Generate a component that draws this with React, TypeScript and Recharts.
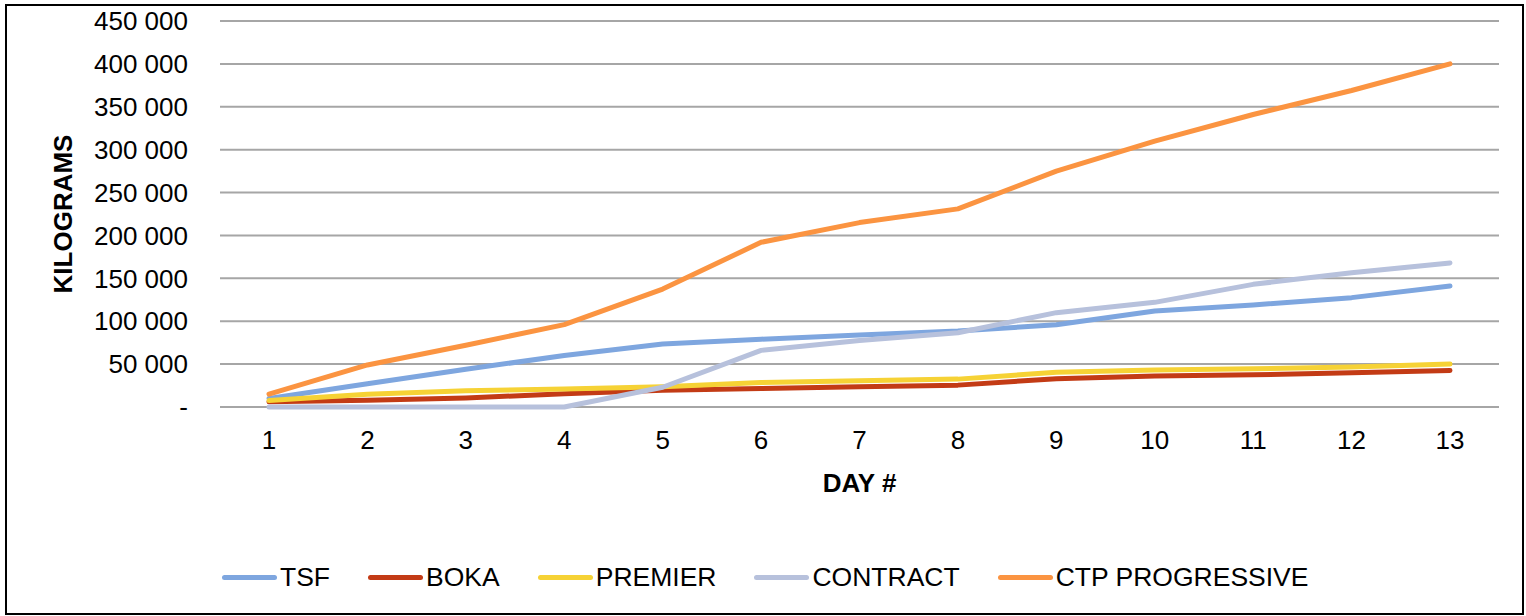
import React from 'react'
import { LineChart, Line, XAxis, YAxis, CartesianGrid } from 'recharts'

const days = ['1', '2', '3', '4', '5', '6', '7', '8', '9', '10', '11', '12', '13']
const tsf = [10000, 27000, 44000, 60000, 73500, 79000, 84000, 88500, 96000, 112000, 119000, 127500, 141000]
const boka = [6000, 8000, 10500, 15500, 19500, 21500, 23500, 25500, 33000, 36000, 37500, 40000, 42500]
const premier = [7500, 15000, 19000, 21000, 23500, 28500, 30500, 32500, 40500, 43000, 44500, 46500, 50000]
const contract = [0, 0, 0, 0, 23000, 66000, 77500, 86500, 110000, 122000, 143000, 156500, 168000]
const ctp = [15000, 49000, 72000, 96000, 137500, 192000, 215000, 231000, 275000, 310000, 341000, 369000, 400000]
const yTicks = [0, 50000, 100000, 150000, 200000, 250000, 300000, 350000, 400000, 450000]

const series = [
  { key: 'TSF', values: tsf, color: '#7ea6df' },
  { key: 'BOKA', values: boka, color: '#c33b15' },
  { key: 'PREMIER', values: premier, color: '#f6d235' },
  { key: 'CONTRACT', values: contract, color: '#b7c1dc' },
  { key: 'CTP PROGRESSIVE', values: ctp, color: '#fb9441' },
]

const data = days.map((d, i) => {
  const row: Record<string, string | number> = { day: d }
  series.forEach((s) => { row[s.key] = s.values[i] })
  return row
})

const font = '"Liberation Sans", Arial, sans-serif'

const fmt = (v: number) => (v === 0 ? '-' : `${Math.floor(v / 1000)} ${String(v % 1000).padStart(3, '0')}`)

function ChartLegend() {
  return (
    <div style={{ position: 'absolute', left: 222, top: 561, height: 32, display: 'flex', alignItems: 'center',
      fontFamily: font, fontSize: 26.5, color: '#000', whiteSpace: 'nowrap' }}>
      {series.map((s) => (
        <div key={s.key} style={{ display: 'flex', alignItems: 'center', marginRight: 38 }}>
          <div style={{ width: 55, height: 5, borderRadius: 3, background: s.color, marginRight: 3 }} />
          <span>{s.key}</span>
        </div>
      ))}
    </div>
  )
}

export default function App() {
  return (
    <div style={{ position: 'absolute', left: 0, top: 0, width: 1526, height: 616, background: '#fff' }}>
      <div style={{ position: 'absolute', left: 5, top: 4, width: 1515, height: 607, border: '2px solid #000' }} />
      <LineChart width={1526} height={616} data={data} margin={{ top: 21, right: 27, left: 0, bottom: 0 }}>
        <CartesianGrid vertical={false} stroke="#a6a6a6" strokeWidth={2} />
        <XAxis
          dataKey="day"
          padding={{ left: 49, right: 49 }}
          height={209}
          axisLine={false}
          tickLine={false}
          tickSize={0}
          tickMargin={24}
          tick={{ fill: '#000', fontSize: 26, fontFamily: font }}
          label={{
            content: (p: any) => (
              <text x={p.viewBox.x + p.viewBox.width / 2} y={p.viewBox.y + 85} textAnchor="middle"
                fontFamily={font} fontSize={26} fontWeight="bold" fill="#000">DAY #</text>
            ),
          }}
        />
        <YAxis
          width={220}
          domain={[0, 450000]}
          ticks={yTicks}
          tickFormatter={fmt}
          axisLine={false}
          tickLine={false}
          tickSize={0}
          tickMargin={32}
          tick={{ fill: '#000', fontSize: 26, fontFamily: font }}
          label={{
            content: (p: any) => (
              <text x={0} y={0} transform={`translate(${p.viewBox.x + 72}, ${p.viewBox.y + p.viewBox.height / 2}) rotate(-90)`}
                textAnchor="middle" fontFamily={font} fontSize={26} fontWeight="bold" fill="#000">KILOGRAMS</text>
            ),
          }}
        />
        {series.map((s) => (
          <Line key={s.key} dataKey={s.key} stroke={s.color} strokeWidth={5} dot={false}
            strokeLinecap="round" strokeLinejoin="round" isAnimationActive={false} />
        ))}
      </LineChart>
      <ChartLegend />
    </div>
  )
}
